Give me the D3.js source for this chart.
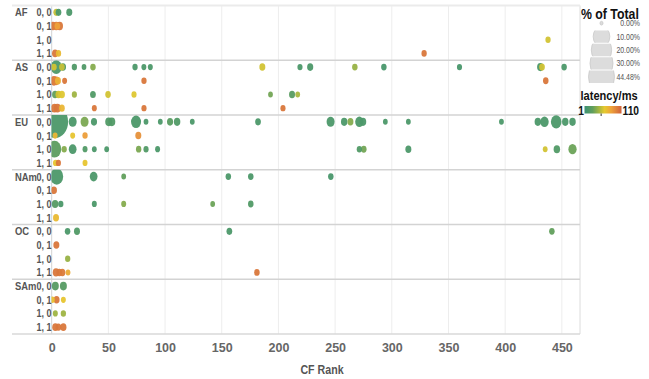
<!DOCTYPE html>
<html>
<head>
<meta charset="utf-8">
<script src="https://cdn.jsdelivr.net/npm/d3@7"></script>
<style>
  body { margin: 0; background: #fff; }
  text { font-family: "Liberation Sans", Arial, sans-serif; }
</style>
</head>
<body>
<svg></svg>
<script>
// categories
const regions = ["AF", "AS", "EU", "NAm", "OC", "SAm"]
const subRows = ["0, 0", "0, 1", "1, 0", "1, 1"]
const xTicks = [0, 50, 100, 150, 200, 250, 300, 350, 400, 450]
const sizeLegend = [0, 10, 20, 30, 44.48]
const latencyExtent = [1, 110]

// marks per region: [row, CF rank, % of total, latency ms]
const dotsAF = [
  ["0, 0", 4, 0.1, 52], ["0, 0", 6, 0.1, 12], ["0, 0", 15.5, 0.13, 12],
  ["0, 1", 1, 0.25, 100], ["0, 1", 4, 0.25, 96], ["0, 1", 5, 0.1, 80], ["0, 1", 7, 0.25, 100],
  ["1, 0", 437.8, 0.06, 55],
  ["1, 1", 3, 0.15, 100], ["1, 1", 6, 0.06, 68], ["1, 1", 328.5, 0.06, 100]
]
const dotsAS = [
  ["0, 0", 4, 2.2, 12], ["0, 0", 2, 0.08, 55], ["0, 0", 9, 0.1, 52], ["0, 0", 10, 0.13, 14],
  ["0, 0", 20, 0.06, 14], ["0, 0", 28.5, 0.03, 14], ["0, 0", 36.4, 0.08, 35], ["0, 0", 73.5, 0.06, 12],
  ["0, 0", 81.3, 0.04, 12], ["0, 0", 87, 0.04, 12], ["0, 0", 185.8, 0.13, 55], ["0, 0", 219, 0.05, 12],
  ["0, 0", 228, 0.15, 12], ["0, 0", 267.4, 0.08, 40], ["0, 0", 293, 0.08, 10], ["0, 0", 359.7, 0.05, 10],
  ["0, 0", 432.5, 0.1, 55], ["0, 0", 431, 0.2, 12], ["0, 0", 452, 0.08, 12],
  ["0, 1", 2, 0.5, 100], ["0, 1", 4, 0.3, 95], ["0, 1", 5.5, 0.13, 72], ["0, 1", 11.4, 0.04, 100],
  ["0, 1", 81.4, 0.06, 100], ["0, 1", 435.8, 0.08, 100],
  ["1, 0", 3, 0.13, 25], ["1, 0", 6, 0.13, 55], ["1, 0", 9, 0.13, 58], ["1, 0", 20, 0.05, 42],
  ["1, 0", 36.4, 0.1, 15], ["1, 0", 49.7, 0.08, 55], ["1, 0", 72.6, 0.05, 58], ["1, 0", 193, 0.03, 30],
  ["1, 0", 212, 0.13, 20], ["1, 0", 217, 0.03, 45],
  ["1, 1", 2.3, 0.3, 100], ["1, 1", 5, 0.3, 100], ["1, 1", 9, 0.1, 70], ["1, 1", 37.6, 0.04, 100],
  ["1, 1", 81.4, 0.05, 100], ["1, 1", 204, 0.05, 100]
]
const dotsEU = [
  ["0, 0", 3, 44.48, 12], ["0, 0", 18.5, 0.57, 12], ["0, 0", 29, 0.57, 32], ["0, 0", 37.3, 0.15, 12],
  ["0, 0", 50.3, 0.3, 15], ["0, 0", 53, 0.3, 15], ["0, 0", 74.4, 1.5, 12], ["0, 0", 83.2, 0.03, 12],
  ["0, 0", 95.8, 0.03, 12], ["0, 0", 104.4, 0.15, 20], ["0, 0", 110.6, 0.2, 15], ["0, 0", 124, 0.03, 12],
  ["0, 0", 182, 0.1, 12], ["0, 0", 246, 0.57, 12], ["0, 0", 258, 0.2, 12], ["0, 0", 263.5, 0.13, 35],
  ["0, 0", 271.4, 0.7, 12], ["0, 0", 274.6, 0.2, 12], ["0, 0", 294.3, 0.03, 12], ["0, 0", 314.6, 0.03, 12],
  ["0, 0", 396.7, 0.03, 12], ["0, 0", 428.8, 0.2, 12], ["0, 0", 434.7, 0.7, 12], ["0, 0", 445, 1.9, 12],
  ["0, 0", 453, 0.2, 12], ["0, 0", 459.4, 0.2, 12],
  ["0, 1", 3, 0.04, 70], ["0, 1", 18.5, 0.04, 62], ["0, 1", 29.4, 0.06, 82], ["0, 1", 76.4, 0.13, 88],
  ["1, 0", 2.5, 4.6, 22], ["1, 0", 11, 0.06, 35], ["1, 0", 18.5, 0.5, 12], ["1, 0", 29.4, 0.04, 15],
  ["1, 0", 37.6, 0.03, 12], ["1, 0", 48.5, 0.03, 12], ["1, 0", 76.7, 0.07, 32], ["1, 0", 83.2, 0.05, 15],
  ["1, 0", 93.4, 0.04, 12], ["1, 0", 271.4, 0.06, 15], ["1, 0", 275.3, 0.08, 30], ["1, 0", 314.6, 0.13, 12],
  ["1, 0", 435.3, 0.03, 55], ["1, 0", 445.6, 0.2, 15], ["1, 0", 459.4, 0.65, 28],
  ["1, 1", 3.4, 0.05, 62], ["1, 1", 5.9, 0.05, 100], ["1, 1", 29.4, 0.04, 62]
]
const dotsNAm = [
  ["0, 0", 4.4, 4.1, 12], ["0, 0", 37, 0.5, 12], ["0, 0", 63.5, 0.03, 25], ["0, 0", 155.8, 0.08, 12],
  ["0, 0", 175.6, 0.08, 12], ["0, 0", 246.2, 0.08, 10],
  ["0, 1", 2, 0.13, 100],
  ["1, 0", 3, 0.2, 18], ["1, 0", 8, 0.06, 12], ["1, 0", 37.6, 0.04, 12], ["1, 0", 63.5, 0.04, 35],
  ["1, 0", 142, 0.03, 28], ["1, 0", 175.6, 0.08, 15],
  ["1, 1", 3.8, 0.13, 68]
]
const dotsOC = [
  ["0, 0", 14, 0.08, 12], ["0, 0", 22.3, 0.13, 15], ["0, 0", 156.7, 0.1, 12], ["0, 0", 441.2, 0.08, 25],
  ["0, 1", 4.1, 0.13, 100],
  ["1, 0", 14.1, 0.06, 40],
  ["1, 1", 3.8, 0.2, 100], ["1, 1", 6.7, 0.13, 100], ["1, 1", 9.4, 0.13, 98], ["1, 1", 14.4, 0.03, 75],
  ["1, 1", 181, 0.08, 100]
]
const dotsSAm = [
  ["0, 0", 3.2, 0.3, 18], ["0, 0", 10.3, 0.3, 18],
  ["0, 1", 0.5, 0.05, 65], ["0, 1", 4.3, 0.13, 100], ["0, 1", 10.3, 0.04, 62],
  ["1, 0", 3.2, 0.04, 42], ["1, 0", 10.3, 0.06, 42],
  ["1, 1", 3.2, 0.15, 100], ["1, 1", 5.9, 0.1, 100], ["1, 1", 10.3, 0.15, 100]
]
const dotsByRegion = { AF: dotsAF, AS: dotsAS, EU: dotsEU, NAm: dotsNAm, OC: dotsOC, SAm: dotsSAm }

const width = 649, height = 379
const pane = { left: 51.5, right: 580, top: 5.5, bottom: 334 }
const headerLeft = 12
const squish = 1.25 // marks are taller than wide in the original
const narrow = 0.82 // horizontal squeeze for the narrow header / legend font

const svg = d3.select('svg')
  .attr('width', width)
  .attr('height', height)

// narrow text: positioned by transform so it can be squeezed horizontally
const at = (x, y) => `translate(${x},${y}) scale(${narrow},1)`

const x = d3.scaleLinear()
  .domain([0, 466])
  .range([51.7, pane.right])

const yRegion = d3.scaleBand()
  .domain(regions)
  .range([pane.top, pane.bottom])

const yRow = d3.scaleBand()
  .domain(subRows)
  .range([0, yRegion.bandwidth()])

const size = d3.scalePow().exponent(0.35)
  .domain([0, d3.max(sizeLegend)])
  .range([1.5, 13])

const latStops = [latencyExtent[0], 25, 45, 60, 80, latencyExtent[1]]
const color = d3.scaleLinear()
  .domain(latStops)
  .range(["#3b9274", "#619f5c", "#aab83f", "#e6c92f", "#eea23a", "#cf613c"])

// grid
const grid = svg.append('g')
grid.selectAll('line.v')
  .data(xTicks)
  .enter()
  .append('line')
  .attr('x1', d => x(d)).attr('x2', d => x(d))
  .attr('y1', pane.top).attr('y2', pane.bottom)
  .attr('stroke', d => d === 0 ? '#d2d2d2' : '#ededed')
  .attr('stroke-width', 1)

grid.append('line')
  .attr('x1', pane.right).attr('x2', pane.right)
  .attr('y1', pane.top).attr('y2', pane.bottom)
  .attr('stroke', '#dcdcdc')

grid.append('line')
  .attr('x1', headerLeft).attr('x2', pane.right)
  .attr('y1', pane.top).attr('y2', pane.top)
  .attr('stroke', '#ebebeb').attr('stroke-width', 2)

grid.selectAll('line.h')
  .data(regions.slice(1))
  .enter()
  .append('line')
  .attr('x1', headerLeft).attr('x2', pane.right)
  .attr('y1', d => yRegion(d)).attr('y2', d => yRegion(d))
  .attr('stroke', '#d3d3d3').attr('stroke-width', 1.3)

grid.append('line')
  .attr('x1', headerLeft).attr('x2', pane.right)
  .attr('y1', pane.bottom).attr('y2', pane.bottom)
  .attr('stroke', '#d8d8d8').attr('stroke-width', 1.3)

// row headers
const rowMid = r => yRow(r) + yRow.bandwidth() / 2

const headers = svg.append('g')
headers.selectAll('text.region')
  .data(regions)
  .enter()
  .append('text')
  .attr('transform', d => at(15, yRegion(d) + rowMid(subRows[0]) + 4))
  .attr('font-size', 11.5)
  .attr('font-weight', 'bold')
  .attr('fill', '#555')
  .text(d => d)

regions.forEach(region => {
  headers.selectAll(null)
    .data(subRows)
    .enter()
    .append('text')
    .attr('transform', d => at(51.5, yRegion(region) + rowMid(d) + 4))
    .attr('text-anchor', 'end')
    .attr('font-size', 11)
    .attr('font-weight', 'bold')
    .attr('fill', '#555')
    .text(d => d)
})

// marks, clipped to each region pane
const defs = svg.append('defs')
regions.forEach((region, i) => {
  defs.append('clipPath')
    .attr('id', 'clip' + i)
    .append('rect')
    .attr('x', pane.left)
    .attr('y', yRegion(region))
    .attr('width', pane.right - pane.left)
    .attr('height', yRegion.bandwidth())

  const data = dotsByRegion[region].slice().sort((a, b) => b[2] - a[2])

  svg.append('g')
    .attr('clip-path', `url(#clip${i})`)
    .selectAll('ellipse')
    .data(data)
    .enter()
    .append('ellipse')
    .attr('cx', d => x(d[1]))
    .attr('cy', d => yRegion(region) + rowMid(d[0]))
    .attr('rx', d => size(d[2]))
    .attr('ry', d => size(d[2]) * squish)
    .attr('fill', d => color(d[3]))
    .attr('fill-opacity', 0.95)
})

// x axis
const axis = svg.append('g')
  .attr('transform', `translate(0,${pane.bottom})`)
  .call(d3.axisBottom(x).tickValues(xTicks).tickSize(0).tickPadding(9))

axis.select('.domain').remove()
axis.selectAll('text')
  .attr('font-family', '"Liberation Sans", Arial, sans-serif')
  .attr('font-size', 12.5)
  .attr('font-weight', 'bold')
  .attr('fill', '#666')

svg.append('text')
  .attr('transform', at(322, 374))
  .attr('text-anchor', 'middle')
  .attr('font-size', 13)
  .attr('font-weight', 'bold')
  .attr('fill', '#555')
  .text('CF Rank')

// size legend
const legend = svg.append('g')
legend.append('text')
  .attr('transform', at(581, 18.5))
  .attr('font-size', 15)
  .attr('font-weight', 'bold')
  .attr('fill', '#111')
  .text('% of Total')

const legRow = d3.scaleBand()
  .domain(sizeLegend)
  .range([16.5, 83.5])

sizeLegend.forEach((v, i) => {
  defs.append('clipPath')
    .attr('id', 'legclip' + i)
    .append('rect')
    .attr('x', 580)
    .attr('y', legRow(v) + 0.5)
    .attr('width', 40)
    .attr('height', legRow.bandwidth() - 1)
})

legend.selectAll('ellipse')
  .data(sizeLegend)
  .enter()
  .append('ellipse')
  .attr('clip-path', (d, i) => `url(#legclip${i})`)
  .attr('cx', 601.5)
  .attr('cy', d => legRow(d) + legRow.bandwidth() / 2)
  .attr('rx', d => size(d))
  .attr('ry', d => size(d) * squish)
  .attr('fill', '#dcdcdc')
  .attr('stroke', '#c9c9c9')
  .attr('stroke-width', 0.8)

legend.selectAll('text.lab')
  .data(sizeLegend)
  .enter()
  .append('text')
  .attr('transform', d => at(640, legRow(d) + legRow.bandwidth() / 2 + 3))
  .attr('text-anchor', 'end')
  .attr('font-size', 8.5)
  .attr('fill', '#555')
  .text(d => d3.format('.2f')(d) + '%')

// colour legend
const grad = defs.append('linearGradient').attr('id', 'latgrad')
grad.selectAll('stop')
  .data(latStops)
  .enter()
  .append('stop')
  .attr('offset', d => (d - latencyExtent[0]) / (latencyExtent[1] - latencyExtent[0]))
  .attr('stop-color', d => color(d))

legend.append('text')
  .attr('transform', at(580.5, 99.5))
  .attr('font-size', 13.5)
  .attr('font-weight', 'bold')
  .attr('fill', '#111')
  .text('latency/ms')

const barX = d3.scaleLinear().domain(latencyExtent).range([584.5, 621.5])

legend.append('rect')
  .attr('x', barX(latencyExtent[0]))
  .attr('y', 106)
  .attr('width', barX(latencyExtent[1]) - barX(latencyExtent[0]))
  .attr('height', 7.5)
  .attr('fill', 'url(#latgrad)')

legend.append('line')
  .attr('x1', barX(50)).attr('x2', barX(50))
  .attr('y1', 113.5).attr('y2', 116)
  .attr('stroke', '#333')

legend.append('text')
  .attr('transform', at(barX(latencyExtent[0]) - 0.5, 114.5))
  .attr('text-anchor', 'end')
  .attr('font-size', 12.5)
  .attr('font-weight', 'bold')
  .attr('fill', '#111')
  .text(latencyExtent[0])

legend.append('text')
  .attr('transform', at(barX(latencyExtent[1]) + 1, 114.5))
  .attr('font-size', 12.5)
  .attr('font-weight', 'bold')
  .attr('fill', '#111')
  .text(latencyExtent[1])
</script>
</body>
</html>
